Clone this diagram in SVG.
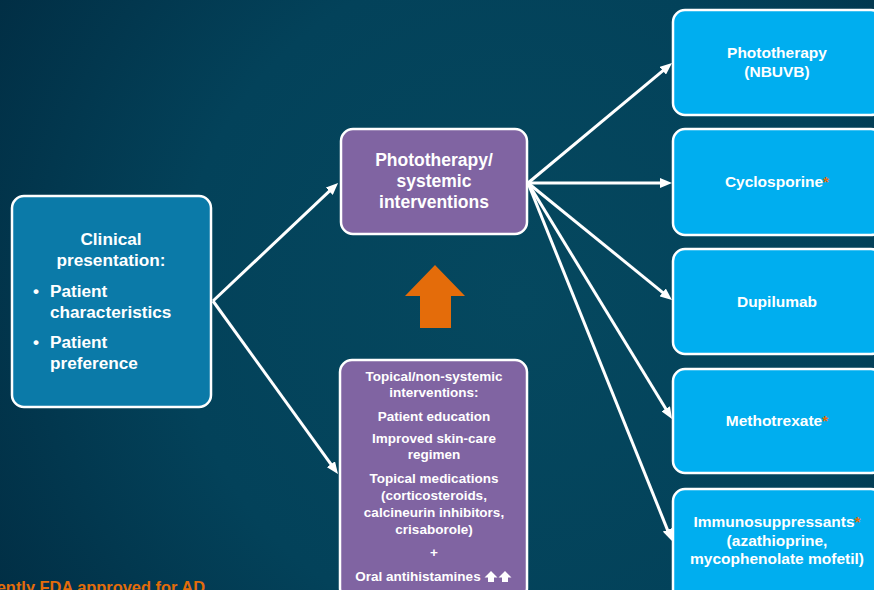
<svg xmlns="http://www.w3.org/2000/svg" width="874" height="590" viewBox="0 0 874 590">
<defs>
<radialGradient id="bg" cx="520" cy="300" r="620" gradientUnits="userSpaceOnUse">
<stop offset="0" stop-color="#05485f"/>
<stop offset="0.55" stop-color="#03425a"/>
<stop offset="1" stop-color="#012d43"/>
</radialGradient>
<marker id="ah" markerUnits="userSpaceOnUse" markerWidth="12" markerHeight="10" refX="3" refY="5" orient="auto">
<path d="M0,0 L12,5 L0,10 z" fill="#ffffff"/>
</marker>
<style>
.box{stroke:#ffffff;stroke-width:2.5}
.teal{fill:#0b7aa8}
.purple{fill:#8064a2}
.cyan{fill:#00aeef}
.t{font-family:"Liberation Sans",Arial,sans-serif;font-weight:bold;fill:#ffffff}
.c{text-anchor:middle}
.ast{fill:#e36c0a}
.con line{stroke:#ffffff;stroke-width:3;marker-end:url(#ah)}
</style>
</defs>
<rect x="0" y="0" width="874" height="590" fill="url(#bg)"/>

<g id="clinical">
<rect class="box teal" x="12" y="196" width="199" height="211" rx="12"/>
<text class="t c" font-size="17.2" x="111" y="245">Clinical</text>
<text class="t c" font-size="17.2" x="111" y="266">presentation:</text>
<text class="t" font-size="17.2" x="33" y="297">•</text>
<text class="t" font-size="17.2" x="50" y="297">Patient</text>
<text class="t" font-size="17.2" x="50" y="318">characteristics</text>
<text class="t" font-size="17.2" x="33" y="348">•</text>
<text class="t" font-size="17.2" x="50" y="348">Patient</text>
<text class="t" font-size="17.2" x="50" y="369">preference</text>
</g>

<g id="systemic">
<rect class="box purple" x="341" y="129" width="186" height="105" rx="12"/>
<text class="t c" font-size="17.5" x="434" y="166">Phototherapy/</text>
<text class="t c" font-size="17.5" x="434" y="187">systemic</text>
<text class="t c" font-size="17.5" x="434" y="208">interventions</text>
</g>

<g id="topical">
<rect class="box purple" x="340" y="360" width="187" height="240" rx="12"/>
<g class="t c" font-size="13.5">
<text x="434" y="381">Topical/non-systemic</text>
<text x="434" y="397">interventions:</text>
<text x="434" y="421">Patient education</text>
<text x="434" y="443">Improved skin-care</text>
<text x="434" y="459">regimen</text>
<text x="434" y="483">Topical medications</text>
<text x="434" y="500">(corticosteroids,</text>
<text x="434" y="517">calcineurin inhibitors,</text>
<text x="434" y="534">crisaborole)</text>
<text x="434" y="557">+</text>
<text x="418" y="581">Oral antihistamines</text>
</g>
<path d="M491,571 L497.5,577.5 L494,577.5 L494,582 L488,582 L488,577.5 L484.5,577.5 Z M505,571 L511.5,577.5 L508,577.5 L508,582 L502,582 L502,577.5 L498.5,577.5 Z" fill="#ffffff"/>
</g>

<g id="upArrow">
<polygon points="435,265 465,296 451,296 451,328 420,328 420,296 405,296" fill="#e46c0a"/>
</g>

<g id="phototherapy">
<rect class="box cyan" x="673" y="10" width="210" height="105" rx="12"/>
<text class="t c" font-size="15.5" x="777" y="58">Phototherapy</text>
<text class="t c" font-size="15.5" x="777" y="77">(NBUVB)</text>
</g>

<g id="cyclosporine">
<rect class="box cyan" x="673" y="129" width="210" height="106" rx="12"/>
<text class="t c" font-size="15.5" x="777" y="187">Cyclosporine<tspan class="ast">*</tspan></text>
</g>

<g id="dupilumab">
<rect class="box cyan" x="673" y="249" width="210" height="105" rx="12"/>
<text class="t c" font-size="15.5" x="777" y="307">Dupilumab</text>
</g>

<g id="methotrexate">
<rect class="box cyan" x="673" y="369" width="210" height="104" rx="12"/>
<text class="t c" font-size="15.5" x="777" y="426">Methotrexate<tspan class="ast">*</tspan></text>
</g>

<g id="immunosuppressants">
<rect class="box cyan" x="673" y="489" width="210" height="120" rx="12"/>
<text class="t c" font-size="15.5" x="777" y="527">Immunosuppressants<tspan class="ast">*</tspan></text>
<text class="t c" font-size="15.5" x="777" y="546">(azathioprine,</text>
<text class="t c" font-size="15.5" x="777" y="564">mycophenolate mofetil)</text>
</g>

<g id="connectors" class="con">
<line x1="213" y1="301" x2="331.5" y2="189.2"/>
<line x1="213" y1="301" x2="332.7" y2="466.7"/>
<line x1="528" y1="183" x2="665.1" y2="68.8"/>
<line x1="528" y1="183" x2="663" y2="183"/>
<line x1="528" y1="183" x2="665" y2="294.3"/>
<line x1="528" y1="183" x2="667.3" y2="411.3"/>
<line x1="528" y1="183" x2="668.6" y2="532.6"/>
</g>

<text class="t" font-size="16.4" x="205" y="593" text-anchor="end" style="fill:#e46c0a">*Not currently FDA approved for AD</text>
</svg>
